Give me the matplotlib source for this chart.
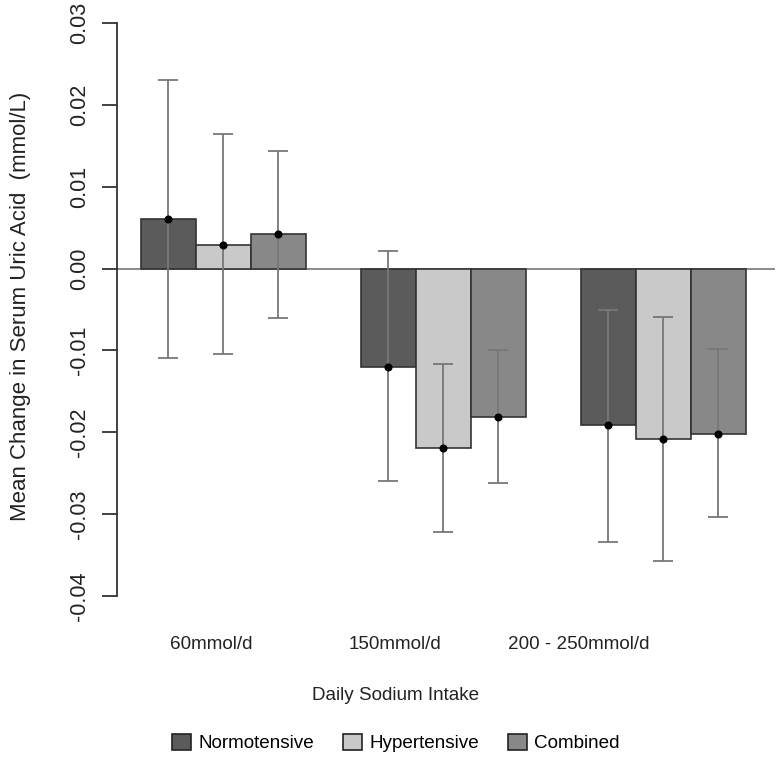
import matplotlib
matplotlib.use("Agg")
import matplotlib.pyplot as plt
from matplotlib.patches import Patch
import numpy as np

plt.rcParams['font.family'] = ['Liberation Sans', 'DejaVu Sans']

categories = ["60mmol/d", "150mmol/d", "200 - 250mmol/d"]
series = ["Normotensive", "Hypertensive", "Combined"]
means = {
    "Normotensive": [0.0061, -0.0120, -0.0191],
    "Hypertensive": [0.0029, -0.0219, -0.0208],
    "Combined":     [0.0042, -0.0181, -0.0202],
}
lower = {
    "Normotensive": [-0.0109, -0.0260, -0.0334],
    "Hypertensive": [-0.0104, -0.0322, -0.0357],
    "Combined":     [-0.0060, -0.0262, -0.0304],
}
upper = {
    "Normotensive": [0.0230, 0.0021, -0.0050],
    "Hypertensive": [0.0164, -0.0117, -0.0059],
    "Combined":     [0.0143, -0.0099, -0.0098],
}
yticks = [-0.04, -0.03, -0.02, -0.01, 0.00, 0.01, 0.02, 0.03]
ytick_labels = ["-0.04", "-0.03", "-0.02", "-0.01", "0.00", "0.01", "0.02", "0.03"]
colors = {"Normotensive": "#5b5b5b", "Hypertensive": "#c9c9c9", "Combined": "#888888"}

W, H = 776, 759
fig = plt.figure(figsize=(W / 100, H / 100), dpi=100)
ax = fig.add_axes([117 / W, 1 - 619 / H, (775 - 117) / W, 619 / H])

group_starts = [1, 5, 9]
for i, s in enumerate(series):
    xs = np.array(group_starts) + i + 0.5
    m = np.array(means[s])
    lo = np.array(lower[s])
    hi = np.array(upper[s])
    ax.bar(xs, m, width=1.0, color=colors[s], edgecolor="#333333", linewidth=1.2, zorder=2)
    ax.errorbar(xs, m, yerr=[m - lo, hi - m], fmt="none", ecolor="#777777",
                elinewidth=1.3, capsize=7, capthick=1.3, zorder=3)
    ax.plot(xs, m, "o", color="black", markersize=4.8, zorder=4)

ax.axhline(0, color="#8a8a8a", linewidth=1.4, zorder=1)

ax.set_xlim(0.564, 12.53)
ax.set_ylim(-0.0428, 0.0328)
for sp in ["top", "right", "bottom"]:
    ax.spines[sp].set_visible(False)
ax.spines["left"].set_bounds(-0.04, 0.03)
ax.spines["left"].set_color("#333333")
ax.spines["left"].set_linewidth(1.3)
ax.set_yticks(yticks)
ax.set_yticklabels(ytick_labels, rotation=90, va="center", fontsize=15.5, color="#222222")
ax.tick_params(axis="y", length=11, width=1.3, color="#333333", pad=8.5)

# category labels
label_pos = [2.273, 5.618, 8.964]
ax.set_xticks(label_pos)
ax.set_xticklabels(categories, fontsize=13.6, color="#222222")
ax.tick_params(axis="x", length=0, pad=12)

fig.text(396 / W, 1 - 695 / H, "Daily Sodium Intake", ha="center", va="center",
         fontsize=13.6, color="#222222")
fig.text(21 / W, 1 - 306 / H, "Mean Change in Serum Uric Acid  (mmol/L)", rotation=90,
         ha="center", va="center", fontsize=16, color="#222222")

handles = [Patch(facecolor=colors[s], edgecolor="#222222", linewidth=1.2) for s in series]
fig.legend(handles, series, loc="center", bbox_to_anchor=(396 / W, 1 - 743 / H),
           ncol=3, frameon=False, fontsize=13.6, handlelength=1.0, handleheight=1.0,
           handletextpad=0.38, columnspacing=1.55, borderpad=0, borderaxespad=0)

fig.savefig("out.png", dpi=100)
